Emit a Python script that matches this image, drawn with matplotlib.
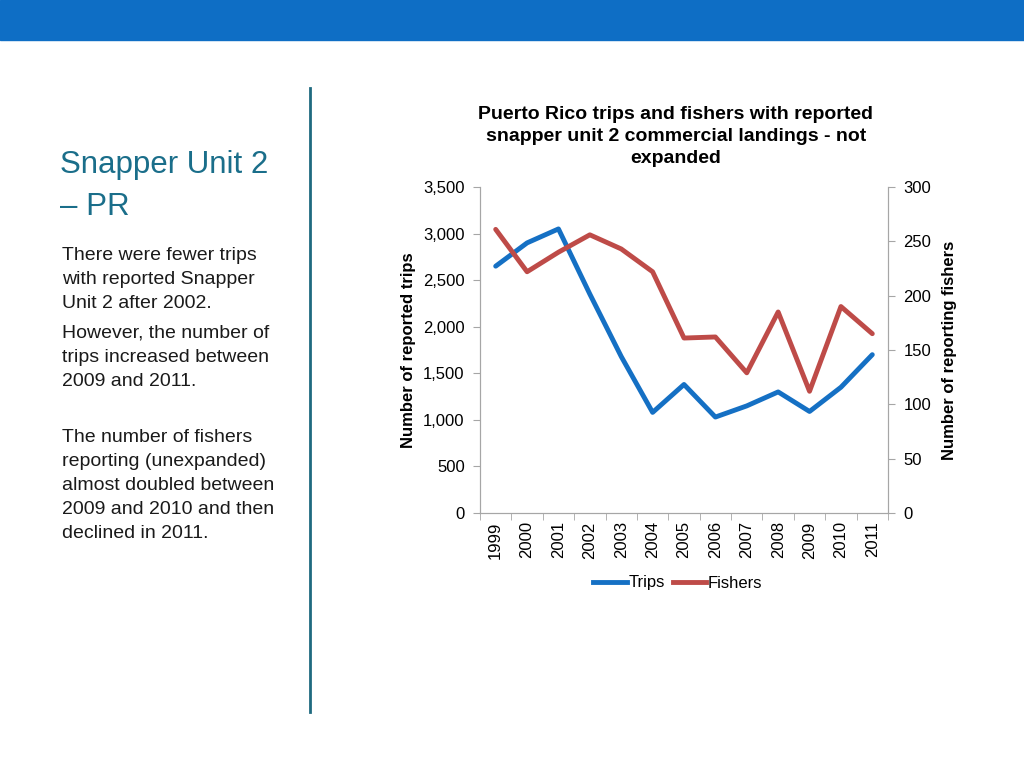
import matplotlib
matplotlib.use("Agg")
import matplotlib.pyplot as plt
from matplotlib.lines import Line2D
from matplotlib.patches import Rectangle

plt.rcParams['font.family'] = ['Liberation Sans', 'DejaVu Sans']

years = ['1999', '2000', '2001', '2002', '2003', '2004', '2005',
         '2006', '2007', '2008', '2009', '2010', '2011']
trips = [2650, 2900, 3050, 2350, 1680, 1080, 1380, 1030, 1150, 1300, 1090, 1350, 1700]
fishers = [261, 222, 240, 256, 243, 222, 161, 162, 129, 185, 112, 190, 165]

left_ticks = [0, 500, 1000, 1500, 2000, 2500, 3000, 3500]
right_ticks = [0, 50, 100, 150, 200, 250, 300]

blue = '#1570C4'
red = '#BE4B48'
grey = '#A6A6A6'

fig = plt.figure(figsize=(10.24, 7.68), dpi=100)

# top banner
fig.patches.append(Rectangle((0, 1 - 40/768), 1, 40/768, transform=fig.transFigure,
                             color='#0E6EC5', zorder=0))
# vertical divider
fig.add_artist(Line2D([310/1024, 310/1024], [1 - 88/768, 1 - 712/768],
                      transform=fig.transFigure, color='#1F6A80', lw=2))

# left title and text
fig.text(60/1024, 1 - 165/768, 'Snapper Unit 2', fontsize=22.5,
         color='#1A6E8A', va='center', ha='left')
fig.text(60/1024, 1 - 207/768, '– PR', fontsize=22.5,
         color='#1A6E8A', va='center', ha='left')

body = [("There were fewer trips", 256), ("with reported Snapper", 280),
        ("Unit 2 after 2002.", 304), ("However, the number of", 333),
        ("trips increased between", 357), ("2009 and 2011.", 381),
        ("The number of fishers", 438), ("reporting (unexpanded)", 462),
        ("almost doubled between", 486), ("2009 and 2010 and then", 510),
        ("declined in 2011.", 534)]
for txt, y in body:
    fig.text(62/1024, 1 - y/768, txt, fontsize=14, color='#1a1a1a',
             va='center', ha='left')

# chart
ax = fig.add_axes([480/1024, 1 - 513/768, 408/1024, 326/768])
x = list(range(len(years)))
ax.plot(x, trips, color=blue, lw=3.5, solid_capstyle='round', solid_joinstyle='round')
ax.set_xlim(-0.5, len(years) - 0.5)
ax.set_ylim(0, 3500)
ax.set_yticks(left_ticks)
ax.set_yticklabels([f'{v:,}' for v in left_ticks], fontsize=12)
ax.set_xticks(x)
ax.set_xticklabels(years, rotation=90, fontsize=12)
ax.set_xticks([i - 0.5 for i in range(len(years) + 1)], minor=True)
ax.tick_params(axis='x', which='major', length=0, pad=6)
ax.tick_params(axis='x', which='minor', length=5, color=grey, direction='out')
ax.tick_params(axis='y', length=5, color=grey, direction='out', pad=6)
ax.set_ylabel('Number of reported trips', fontsize=12, fontweight='bold', labelpad=5)
ax.spines['top'].set_visible(False)
for s in ['left', 'bottom', 'right']:
    ax.spines[s].set_color(grey)

ax2 = ax.twinx()
ax2.plot(x, fishers, color=red, lw=3.5, solid_capstyle='round', solid_joinstyle='round')
ax2.set_ylim(0, 300)
ax2.set_yticks(right_ticks)
ax2.set_yticklabels([str(v) for v in right_ticks], fontsize=12)
ax2.tick_params(axis='y', length=5, color=grey, direction='out', pad=6)
ax2.set_ylabel('Number of reporting fishers', fontsize=12, fontweight='bold', labelpad=8)
ax2.spines['top'].set_visible(False)
for s in ['left', 'bottom', 'right']:
    ax2.spines[s].set_color(grey)

ax.set_title('Puerto Rico trips and fishers with reported\nsnapper unit 2 commercial landings - not\nexpanded',
             fontsize=14, fontweight='bold', pad=17, linespacing=1.4, x=0.48)

handles = [Line2D([], [], color=blue, lw=3.5), Line2D([], [], color=red, lw=3.5)]
fig.legend(handles, ['Trips', 'Fishers'], loc='center', bbox_to_anchor=(678/1024, 1 - 583/768),
           ncol=2, frameon=False, fontsize=12, handlelength=2.0, handletextpad=0.1,
           columnspacing=0.5)

fig.savefig('out.png', dpi=100)
